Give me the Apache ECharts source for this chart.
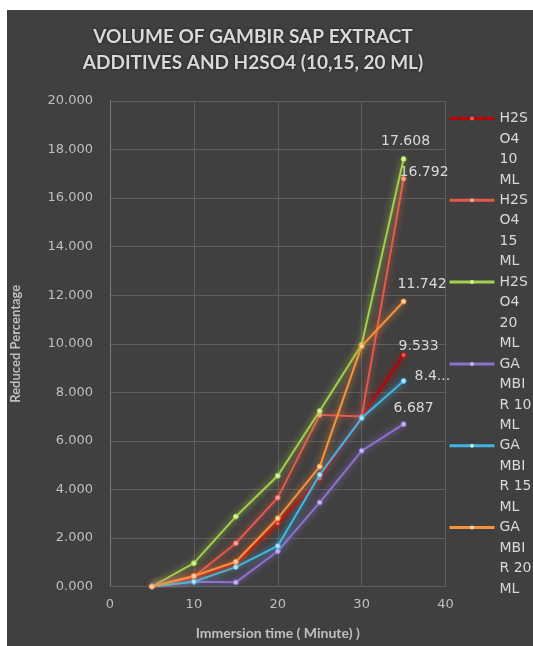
<!DOCTYPE html>
<html>
<head>
<meta charset="utf-8">
<script src="https://cdn.jsdelivr.net/npm/echarts@6/dist/echarts.min.js"></script>
<style>
html,body{margin:0;padding:0;background:#ffffff;width:533px;height:646px;overflow:hidden;}
#chart{position:absolute;left:7px;top:10px;width:526px;height:636px;background:#404040;}
</style>
</head>
<body>
<div id="chart"></div>
<script>
// Immersion time (minutes)
const times = [5, 10, 15, 20, 25, 30, 35];
// Reduced percentage per series
const h2so4_10 = [0, 0.35, 0.95, 2.6, 4.45, 7.0, 9.533];
const h2so4_15 = [0, 0.4, 1.78, 3.66, 7.07, 7.0, 16.792];
const h2so4_20 = [0, 0.96, 2.88, 4.56, 7.23, 9.96, 17.608];
const gambir_10 = [0, 0.2, 0.17, 1.45, 3.46, 5.59, 6.687];
const gambir_15 = [0, 0.2, 0.8, 1.67, 4.6, 6.94, 8.47];
const gambir_20 = [0, 0.43, 1.02, 2.81, 4.94, 9.9, 11.742];
const seriesNames = ['H2SO4 10 ML', 'H2SO4 15 ML', 'H2SO4 20 ML', 'GAMBIR 10 ML', 'GAMBIR 15 ML', 'GAMBIR 20 ML'];
const legendTexts = ['H2S\nO4\n10\nML', 'H2S\nO4\n15\nML', 'H2S\nO4\n20\nML', 'GA\nMBI\nR 10\nML', 'GA\nMBI\nR 15\nML', 'GA\nMBI\nR 20\nML'];
const yTicks = [0, 2, 4, 6, 8, 10, 12, 14, 16, 18, 20];
const xTicks = [0, 10, 20, 30, 40];
const titleText = 'VOLUME OF GAMBIR SAP EXTRACT\nADDITIVES AND H2SO4 (10,15, 20 ML)';
const xTitle = 'Immersion time ( Minute) )';
const yTitle = 'Reduced Percentage';

const allValues = [h2so4_10, h2so4_15, h2so4_20, gambir_10, gambir_15, gambir_20];
const colors = ['#c00000', '#e5594a', '#a3cf4a', '#8f6fd0', '#3fb7e3', '#f7923a'];
const markerColors = ['#e06060', '#f4a89e', '#d7f0a0', '#c8b8ee', '#b8e8f8', '#fcd0a8'];
// label placement: [align, dx, dy]
const labelPlace = [
  ['left', -5, -9],
  ['left', -4, -7],
  ['center', 2, -18],
  ['left', -10, -16],
  ['left', 11, -5],
  ['left', -6, -17]
];
const legendIconY = [108.5, 190.3, 272.1, 353.9, 435.7, 517.5];
const LH = 20.5;

const series = allValues.map((vals, si) => ({
  name: seriesNames[si],
  type: 'line',
  symbol: 'circle',
  symbolSize: 5,
  z: 2 + si,
  lineStyle: { color: colors[si], width: 2, shadowColor: colors[si], shadowBlur: 7 },
  itemStyle: { color: markerColors[si], borderColor: colors[si], borderWidth: 1 },
  emphasis: { disabled: true },
  data: vals.map((v, i) => {
    const d = { value: [times[i], v] };
    if (i === vals.length - 1) {
      d.label = {
        show: true,
        position: 'inside',
        align: labelPlace[si][0],
        verticalAlign: 'middle',
        offset: [labelPlace[si][1], labelPlace[si][2]],
        formatter: (p) => p.value[1].toFixed(3),
        color: '#d9d9d9',
        fontFamily: 'DejaVu Sans',
        fontSize: 14,
        width: si === 4 ? 40 : undefined,
        overflow: si === 4 ? 'truncate' : undefined,
        ellipsis: '...'
      };
    }
    return d;
  })
}));

const legends = seriesNames.map((n, i) => ({
  show: true,
  data: [{ name: n, itemStyle: { borderWidth: 0 } }],
  left: 441,
  top: legendIconY[i] - LH * 3.5,
  padding: 0,
  itemWidth: 45,
  itemHeight: 5,
  selectedMode: false,
  formatter: () => '\n\n\n' + legendTexts[i],
  lineStyle: { width: 3 },
  textStyle: { color: '#d9d9d9', fontFamily: 'DejaVu Sans', fontSize: 14, lineHeight: LH }
}));

const chart = echarts.init(document.getElementById('chart'), null, { renderer: 'canvas' });
chart.setOption({
  backgroundColor: '#404040',
  animation: false,
  title: {
    text: titleText,
    left: 241,
    top: 9,
    textAlign: 'center',
    textStyle: {
      color: '#d9d9d9', fontFamily: 'Lato', fontWeight: 'bold', fontSize: 19, lineHeight: 26,
      textShadowColor: 'rgba(0,0,0,0.6)', textShadowBlur: 3
    }
  },
  legend: legends,
  grid: { left: 103, right: 87.5, top: 91, bottom: 59.5, containLabel: false, outerBoundsMode: 'none' },
  xAxis: {
    type: 'value', min: xTicks[0], max: xTicks[xTicks.length - 1], interval: 10,
    name: xTitle, nameLocation: 'middle', nameGap: 40,
    nameTextStyle: { color: '#bfbfbf', fontFamily: 'Lato', fontWeight: 'bold', fontSize: 14 },
    axisLine: { show: true, lineStyle: { color: '#5e5e5e' } },
    axisTick: { show: false },
    axisLabel: { color: '#bfbfbf', fontFamily: 'DejaVu Sans', fontSize: 13, margin: 12 },
    splitLine: { show: true, lineStyle: { color: '#5e5e5e', width: 1 } }
  },
  yAxis: {
    type: 'value', min: yTicks[0], max: yTicks[yTicks.length - 1], interval: 2,
    name: yTitle, nameLocation: 'middle', nameGap: 88, nameRotate: 90,
    nameTextStyle: { color: '#bfbfbf', fontFamily: 'Lato', fontWeight: 'bold', fontSize: 13 },
    axisLine: { show: true, lineStyle: { color: '#7a7a7a' } },
    axisTick: { show: false },
    axisLabel: { color: '#bfbfbf', fontFamily: 'DejaVu Sans', fontSize: 13, margin: 17, formatter: (v) => v.toFixed(3) },
    splitLine: { show: true, lineStyle: { color: '#5e5e5e', width: 1 } }
  },
  series: series
});
</script>
</body>
</html>
